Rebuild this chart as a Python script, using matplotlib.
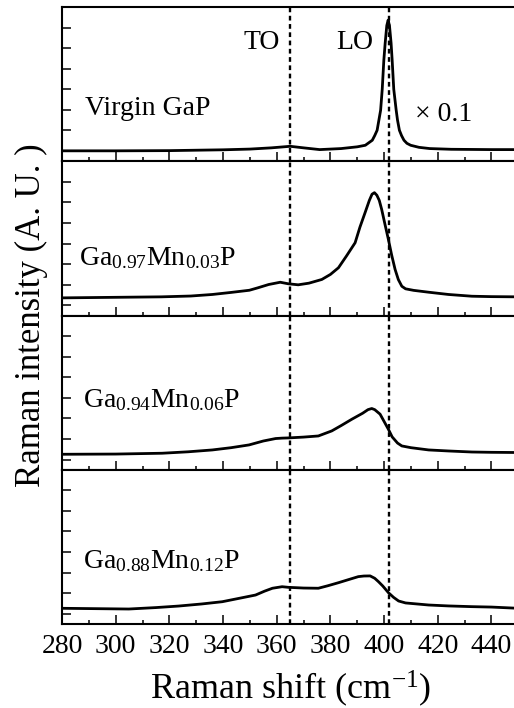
import numpy as np
import matplotlib
import matplotlib.pyplot as plt

plt.switch_backend('Agg')

plt.rcParams['font.family'] = ['Liberation Serif', 'DejaVu Serif']
plt.rcParams['mathtext.fontset'] = 'custom'
plt.rcParams['mathtext.rm'] = 'Liberation Serif'
plt.rcParams['mathtext.it'] = 'Liberation Serif:italic'
plt.rcParams['mathtext.bf'] = 'Liberation Serif:bold'

# Raman spectra (offset/scaled per panel, arbitrary units)
x_virgin = [280, 300, 320, 340, 350, 358, 365, 370, 376, 384, 390, 393, 395.6, 396.5,
            397.4, 398.7, 399.3, 399.9, 400.4, 401.0, 401.5, 402.0, 402.6, 403.0,
            403.6, 404.5, 405.0, 405.7, 406.5, 407.4, 408.5, 409.9, 413, 417, 425,
            440, 450]
y_virgin = [0.002, 0.002, 0.004, 0.012, 0.019, 0.031, 0.046, 0.031, 0.014, 0.024,
            0.041, 0.056, 0.105, 0.15, 0.202, 0.397, 0.6, 0.884, 1.05, 1.22, 1.273,
            1.22, 1.05, 0.884, 0.6, 0.397, 0.3, 0.202, 0.15, 0.105, 0.075, 0.056,
            0.036, 0.024, 0.017, 0.014, 0.014]

x_mn03 = [280, 317, 328, 336, 343, 349.8, 353, 357, 361.3, 364.3, 368, 372, 376.8,
          380, 383, 386, 389.2, 391, 392.9, 394.5, 395.5, 396.4, 397.3, 398.2, 399.1,
          400.3, 401.6, 402.8, 404.1, 405.3, 406.6, 408, 411, 416.6, 424, 432.7, 440,
          450]
y_mn03 = [0.072, 0.082, 0.09, 0.105, 0.125, 0.146, 0.17, 0.202, 0.224, 0.209, 0.199,
          0.215, 0.251, 0.30, 0.365, 0.48, 0.608, 0.76, 0.900, 1.02, 1.08, 1.095,
          1.07, 1.02, 0.932, 0.79, 0.640, 0.49, 0.348, 0.25, 0.185, 0.16, 0.145,
          0.127, 0.105, 0.088, 0.084, 0.082]

x_mn06 = [280, 300, 317.3, 327, 336, 343, 349.7, 355, 359.6, 362, 364.3, 370, 375.5,
          380.5, 384, 388, 392, 394, 395.4, 396.5, 398.5, 400, 401.6, 403, 405, 406.6,
          410, 416.6, 424, 432.7, 440, 450]
y_mn06 = [0.051, 0.053, 0.061, 0.075, 0.093, 0.115, 0.142, 0.18, 0.204, 0.208, 0.210,
          0.218, 0.229, 0.278, 0.33, 0.392, 0.45, 0.485, 0.496, 0.485, 0.441, 0.37,
          0.294, 0.22, 0.16, 0.132, 0.115, 0.093, 0.083, 0.073, 0.07, 0.068]

x_mn12 = [280, 304.9, 315, 323.5, 332, 339.7, 346, 352.1, 355.5, 358.4, 362, 364.3,
          370, 375.5, 379, 383, 386.5, 390.4, 392.5, 394.8, 396.5, 397.9, 399.5,
          401.6, 403.5, 405.4, 408, 416.6, 424, 432.7, 440, 450]
y_mn12 = [0.053, 0.046, 0.06, 0.075, 0.095, 0.117, 0.15, 0.182, 0.22, 0.248, 0.263,
          0.257, 0.25, 0.248, 0.272, 0.302, 0.33, 0.361, 0.367, 0.368, 0.345, 0.312,
          0.27, 0.205, 0.16, 0.124, 0.105, 0.085, 0.076, 0.069, 0.065, 0.053]

series = [(x_virgin, y_virgin), (x_mn03, y_mn03), (x_mn06, y_mn06), (x_mn12, y_mn12)]
labels = ['Virgin GaP',
          r'Ga$_{0.97}$Mn$_{0.03}$P',
          r'Ga$_{0.94}$Mn$_{0.06}$P',
          r'Ga$_{0.88}$Mn$_{0.12}$P']
label_pos = [(0.051, 0.345), (0.038, 0.375), (0.047, 0.45), (0.047, 0.41)]
x_ticks = list(range(280, 441, 20))
to_pos = 365
lo_pos = 402

fig, axes = plt.subplots(4, 1, sharex=True, figsize=(5.14, 7.08), dpi=100,
                         gridspec_kw={'hspace': 0})
fig.subplots_adjust(left=0.1206, right=1.0084, bottom=0.1186, top=0.990)

for ax, (xs, ys), lab, (lx, ly) in zip(axes, series, labels, label_pos):
    ax.plot(xs, ys, color='black', lw=2.0, solid_joinstyle='round')
    ax.axvline(to_pos, color='black', lw=1.7, ls=(0, (2.0, 1.5)))
    ax.axvline(lo_pos, color='black', lw=1.7, ls=(0, (2.0, 1.5)))
    ax.set_xlim(280, 450)
    ax.set_ylim(-0.1, 1.4)
    ax.set_yticks(np.arange(0, 1.41, 0.2))
    ax.set_yticklabels([])
    ax.set_xticks(x_ticks)
    ax.set_xticks(range(290, 450, 20), minor=True)
    ax.tick_params(axis='both', which='major', direction='in', length=6.5, width=1.1,
                   labelsize=20, pad=7, top=False, right=False)
    ax.tick_params(axis='x', which='minor', direction='in', length=3, width=1.1,
                   top=False)
    for sp in ax.spines.values():
        sp.set_linewidth(1.5)
    ax.text(lx, ly, lab, transform=ax.transAxes, fontsize=20, va='center', ha='left')

axes[0].text(354.5, 1.06, 'TO', fontsize=20, ha='center', va='center')
axes[0].text(389.2, 1.06, 'LO', fontsize=20, ha='center', va='center')
axes[0].text(422, 0.36, '\u00d7 0.1', fontsize=20, ha='center', va='center')

axes[-1].set_xlabel(r'Raman shift (cm$^{\mathregular{-1}}$)', fontsize=26, labelpad=7)
fig.text(0.062, 0.555, 'Raman intensity (A. U. )', fontsize=25, rotation=90,
         ha='center', va='center')

fig.savefig('out.png', dpi=100)
